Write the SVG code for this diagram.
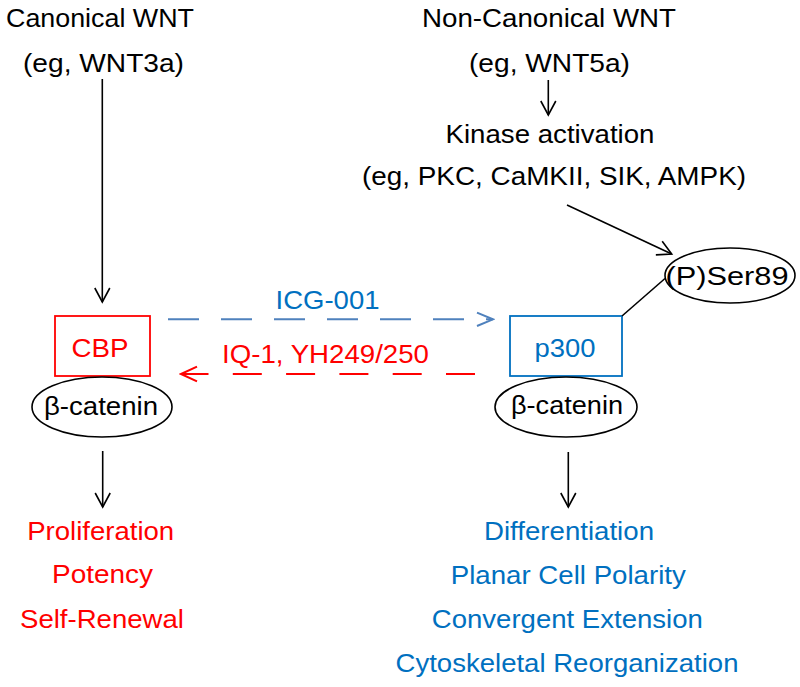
<svg xmlns="http://www.w3.org/2000/svg" width="800" height="687" viewBox="0 0 800 687">
<style>
text{font-family:"Liberation Sans",Arial,sans-serif;font-size:25px;text-anchor:middle}
.k{fill:#000}
.r{fill:#ff0000}
.b{fill:#0070c0}
.ln{stroke:#000;stroke-width:1.6;fill:none}
.ell{stroke:#000;stroke-width:1.6;fill:#fff}
</style>
<defs>
<marker id="ak" markerUnits="userSpaceOnUse" markerWidth="20" markerHeight="20" viewBox="-16 -10 20 20" refX="0" refY="0" orient="auto"><path d="M-14,-7.5 L0,0 L-14,7.5" fill="none" stroke="#000" stroke-width="1.6"/></marker>
<marker id="ab" markerUnits="userSpaceOnUse" markerWidth="20" markerHeight="20" viewBox="-18 -10 20 20" refX="0" refY="0" orient="auto"><path d="M-16,-6.7 L0,0 L-16,6.7" fill="none" stroke="#4f81bd" stroke-width="2"/></marker>
<marker id="ar" markerUnits="userSpaceOnUse" markerWidth="20" markerHeight="20" viewBox="-18 -10 20 20" refX="0" refY="0" orient="auto"><path d="M-16,-7.3 L0,0 L-16,7.3" fill="none" stroke="#ff0000" stroke-width="2"/></marker>
</defs>

<g id="canonical-wnt">
<text class="k" x="100" y="27" textLength="188" lengthAdjust="spacingAndGlyphs">Canonical WNT</text>
<text class="k" x="103.5" y="72" textLength="161" lengthAdjust="spacingAndGlyphs">(eg, WNT3a)</text>
</g>
<g id="noncanonical-wnt">
<text class="k" x="549" y="27" textLength="254" lengthAdjust="spacingAndGlyphs">Non-Canonical WNT</text>
<text class="k" x="549.5" y="72" textLength="161" lengthAdjust="spacingAndGlyphs">(eg, WNT5a)</text>
</g>
<g id="kinase">
<text class="k" x="550" y="143" textLength="209" lengthAdjust="spacingAndGlyphs">Kinase activation</text>
<text class="k" x="554" y="185" textLength="384" lengthAdjust="spacingAndGlyphs">(eg, PKC, CaMKII, SIK, AMPK)</text>
</g>
<g id="pser89">
<ellipse class="ell" cx="730" cy="275.5" rx="65" ry="27.5"/>
<text class="k" x="727" y="285" textLength="123" lengthAdjust="spacingAndGlyphs">(P)Ser89</text>
</g>
<g id="cbp">
<rect x="55" y="316" width="95" height="60" fill="#fff" stroke="#ff0000" stroke-width="1.8"/>
<text class="r" x="100" y="357" textLength="57" lengthAdjust="spacingAndGlyphs">CBP</text>
</g>
<g id="bcat-left">
<ellipse class="ell" cx="102" cy="407" rx="70" ry="30"/>
<text class="k" x="101" y="415" textLength="114" lengthAdjust="spacingAndGlyphs">β-catenin</text>
</g>
<g id="p300">
<rect x="510" y="316" width="112" height="60" fill="#fff" stroke="#0070c0" stroke-width="1.8"/>
<text class="b" x="565" y="357" textLength="61" lengthAdjust="spacingAndGlyphs">p300</text>
</g>
<g id="bcat-right">
<ellipse class="ell" cx="566" cy="407" rx="71" ry="30"/>
<text class="k" x="567" y="414" textLength="112" lengthAdjust="spacingAndGlyphs">β-catenin</text>
</g>
<g id="outcomes-left">
<text class="r" x="100.7" y="540" textLength="147" lengthAdjust="spacingAndGlyphs">Proliferation</text>
<text class="r" x="102.5" y="583" textLength="101" lengthAdjust="spacingAndGlyphs">Potency</text>
<text class="r" x="102" y="628" textLength="164" lengthAdjust="spacingAndGlyphs">Self-Renewal</text>
</g>
<g id="outcomes-right">
<text class="b" x="569" y="540" textLength="170" lengthAdjust="spacingAndGlyphs">Differentiation</text>
<text class="b" x="568.3" y="584" textLength="235" lengthAdjust="spacingAndGlyphs">Planar Cell Polarity</text>
<text class="b" x="567.3" y="628" textLength="271" lengthAdjust="spacingAndGlyphs">Convergent Extension</text>
<text class="b" x="567" y="672" textLength="343" lengthAdjust="spacingAndGlyphs">Cytoskeletal Reorganization</text>
</g>

<g id="connectors">
<path class="ln" d="M102.3,79 L102.3,302" marker-end="url(#ak)"/>
<path class="ln" d="M548.3,80 L548.3,115" marker-end="url(#ak)"/>
<path class="ln" d="M567,205 L671.7,254" marker-end="url(#ak)"/>
<path class="ln" d="M622,316 L665,278.5"/>
<path class="ln" d="M102.7,451 L102.7,507" marker-end="url(#ak)"/>
<path class="ln" d="M568.3,452 L568.3,507" marker-end="url(#ak)"/>
<path d="M168,319.3 L493,319.3" fill="none" stroke="#4f81bd" stroke-width="2" stroke-dasharray="31 22" marker-end="url(#ab)"/>
<path d="M475,374 L181,374" fill="none" stroke="#ff0000" stroke-width="2" stroke-dasharray="29 24.3" marker-end="url(#ar)"/>
<text class="b" x="327.5" y="309" textLength="104" lengthAdjust="spacingAndGlyphs">ICG-001</text>
<text class="r" x="325.5" y="363" textLength="207" lengthAdjust="spacingAndGlyphs">IQ-1, YH249/250</text>
</g>
</svg>
